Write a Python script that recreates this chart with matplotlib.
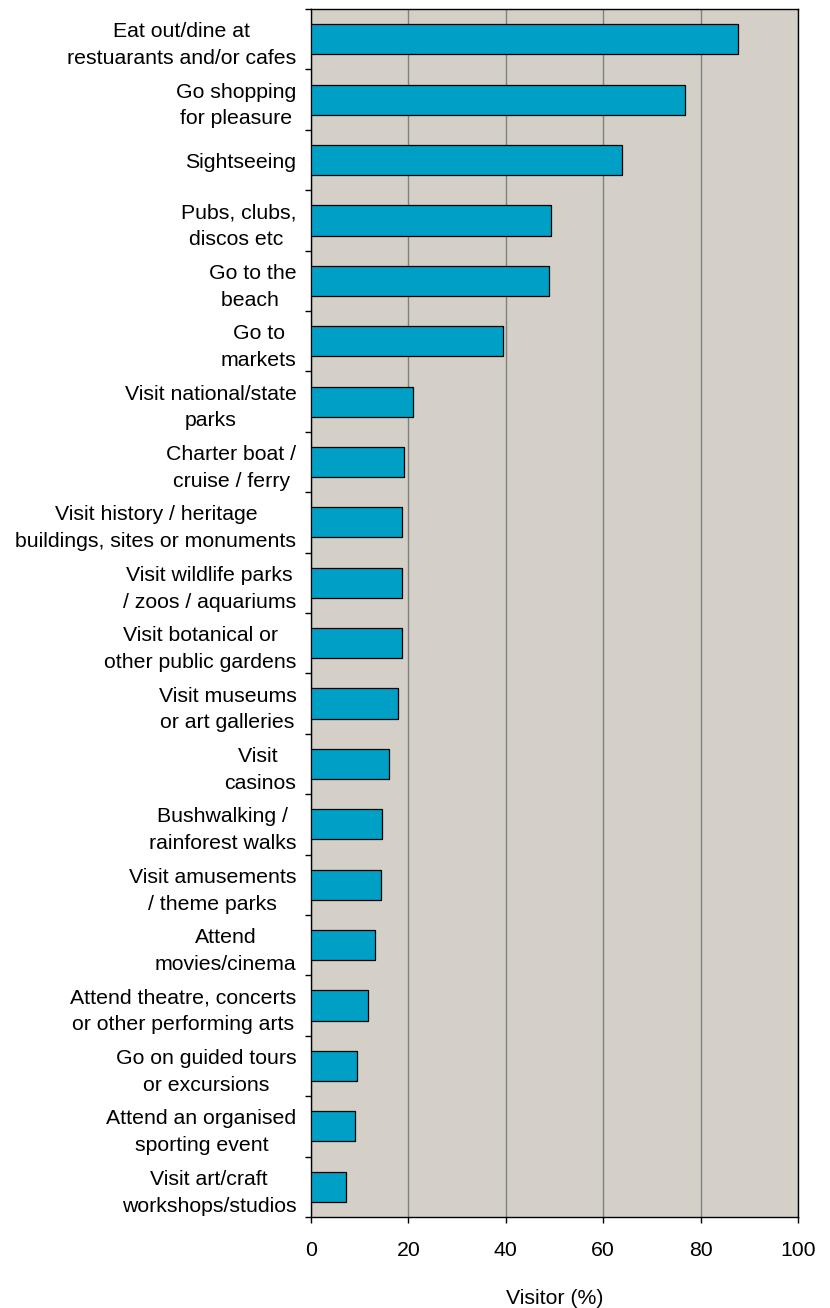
import matplotlib.pyplot as plt
import numpy as np

plt.rcParams['font.family'] = ['Liberation Sans', 'DejaVu Sans']

# activities, top to bottom
activities = [
    "Eat out/dine at\nrestuarants and/or cafes",
    "Go shopping\nfor pleasure",
    "Sightseeing",
    "Pubs, clubs,\ndiscos etc ",
    "Go to the\nbeach ",
    "Go to\nmarkets",
    "Visit national/state\nparks",
    "Charter boat /\ncruise / ferry",
    "Visit history / heritage\nbuildings, sites or monuments",
    "Visit wildlife parks\n/ zoos / aquariums",
    "Visit botanical or\nother public gardens",
    "Visit museums\nor art galleries",
    "Visit \ncasinos",
    "Bushwalking /\nrainforest walks",
    "Visit amusements\n/ theme parks",
    "Attend\nmovies/cinema",
    "Attend theatre, concerts\nor other performing arts",
    "Go on guided tours\nor excursions",
    "Attend an organised\nsporting event",
    "Visit art/craft\nworkshops/studios",
]
# share of visitors (%)
visitor_pct = [87.7, 76.8, 63.9, 49.3, 48.9, 39.4, 20.9, 19.1, 18.7, 18.7,
               18.7, 17.9, 16.0, 14.6, 14.4, 13.2, 11.7, 9.4, 9.0, 7.1]
x_ticks = [0, 20, 40, 60, 80, 100]

fig = plt.figure(figsize=(8.3, 13.08), dpi=100)
ax = fig.add_axes([0.3747, 0.0696, 0.9614 - 0.3747, 0.9931 - 0.0696])
ax.set_facecolor('#d4d0c8')

y = np.arange(len(activities))
ax.barh(y, visitor_pct, height=0.5, color='#00a0c6', edgecolor='black',
        linewidth=0.9, zorder=3)

ax.set_xlim(0, 100)
ax.set_ylim(len(activities) - 0.5, -0.5)
ax.set_xticks(x_ticks)
ax.xaxis.grid(True, color='#808080', linewidth=1.0, zorder=1)

ax.set_yticks(y)
ax.set_yticklabels(activities, ha='right', multialignment='center',
                   linespacing=1.52)
ax.set_yticks(np.arange(-0.5, len(activities)), minor=True)
ax.tick_params(axis='y', which='major', length=0, pad=10.5, labelsize=15.3)
ax.tick_params(axis='y', which='minor', length=4.5, width=1, direction='out')
ax.tick_params(axis='x', length=4.5, width=1, direction='out', pad=13,
               labelsize=15.3)

ax.set_xlabel('Visitor (%)', fontsize=15.3, labelpad=21)

for s in ax.spines.values():
    s.set_color('black')
    s.set_linewidth(1.0)

fig.savefig('out.png', dpi=100, facecolor='white')
